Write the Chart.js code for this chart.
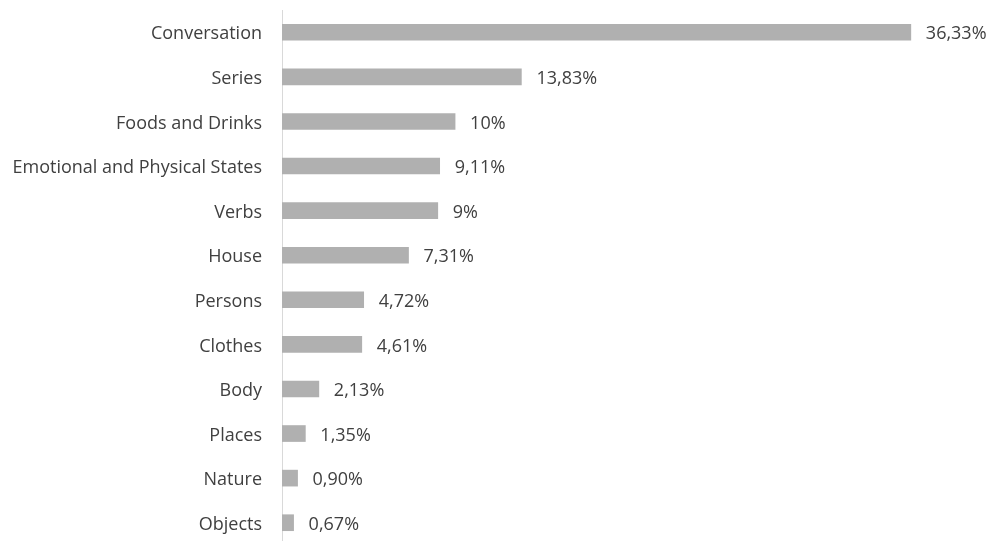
<!DOCTYPE html>
<html>
<head>
<meta charset="utf-8">
<script src="https://cdn.jsdelivr.net/npm/chart.js@4"></script>
<style>
  html, body { margin: 0; padding: 0; background: #ffffff; overflow: hidden; }
  #wrap { width: 996px; height: 546px; }
</style>
</head>
<body>
<div id="wrap"><canvas id="chart" width="996" height="546"></canvas></div>
<script>
const categories = [
  "Conversation", "Series", "Foods and Drinks", "Emotional and Physical States",
  "Verbs", "House", "Persons", "Clothes", "Body", "Places", "Nature", "Objects"
];
const shares = [36.33, 13.83, 10, 9.11, 9, 7.31, 4.72, 4.61, 2.13, 1.35, 0.90, 0.67];

const FONT = "'Open Sans', sans-serif";
const FONT_SIZE = 18;
const TEXT = "#404040";

// 36.33 -> "36,33%", 10 -> "10%", 0.9 -> "0,90%"
function formatShare(v) {
  const s = Number.isInteger(v) ? String(v) : v.toFixed(2);
  return s.replace(".", ",") + "%";
}

// Writes each bar's percentage just past its end
const valueLabels = {
  id: "valueLabels",
  afterDatasetsDraw(chart) {
    const ctx = chart.ctx;
    const meta = chart.getDatasetMeta(0);
    ctx.save();
    ctx.font = FONT_SIZE + "px " + FONT;
    ctx.fillStyle = TEXT;
    ctx.textAlign = "left";
    ctx.textBaseline = "middle";
    meta.data.forEach((bar, i) => {
      ctx.fillText(formatShare(shares[i]), bar.x + 15, bar.y + 2);
    });
    ctx.restore();
  }
};

new Chart(document.getElementById("chart"), {
  type: "bar",
  data: {
    labels: categories,
    datasets: [{
      data: shares,
      backgroundColor: "#b0b0b0",
      borderWidth: 0,
      barThickness: 16
    }]
  },
  options: {
    indexAxis: "y",
    responsive: false,
    animation: false,
    layout: { padding: { top: 10, bottom: 1, left: 0, right: 0 } },
    plugins: { legend: { display: false }, tooltip: { enabled: false } },
    scales: {
      x: { display: false, min: 0, max: 41.25 },
      y: {
        grid: { display: false, drawTicks: false },
        border: { display: true, color: "#d9d9d9", width: 1 },
        ticks: {
          color: TEXT,
          padding: 20,
          labelOffset: 2,
          font: { family: FONT, size: FONT_SIZE }
        },
        afterFit(scale) {
          scale.width = 282;
          scale.paddingTop = 0;
          scale.paddingBottom = 0;
        }
      }
    }
  },
  plugins: [valueLabels]
});
</script>
</body>
</html>
